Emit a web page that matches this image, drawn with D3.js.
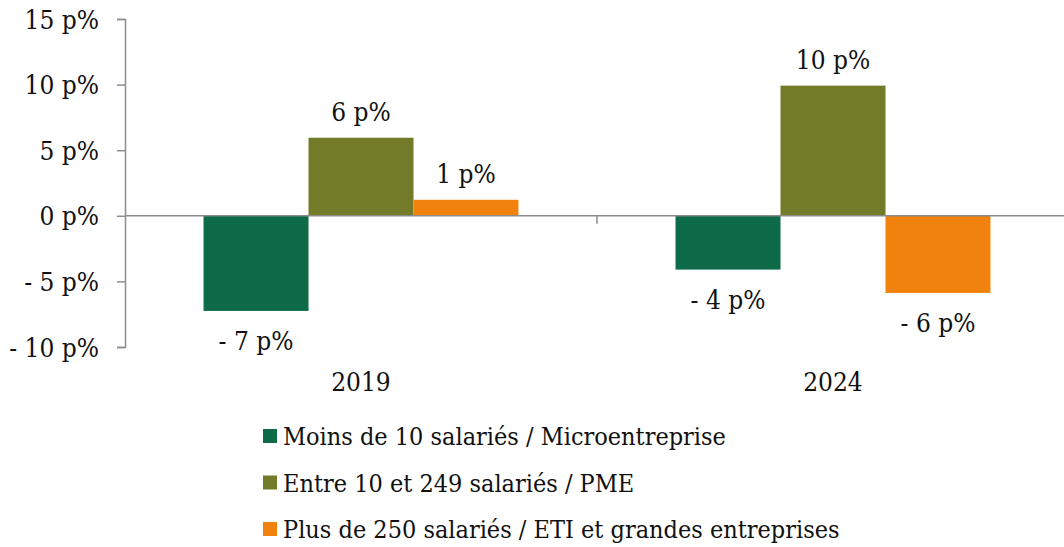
<!DOCTYPE html>
<html>
<head>
<meta charset="utf-8">
<script src="https://cdn.jsdelivr.net/npm/d3@7"></script>
<style>
  body { margin: 0; background: #fff; }
  svg text { font-family: "DejaVu Serif", serif; font-stretch: condensed; fill: #111; }
</style>
</head>
<body>
<div id="chart"></div>
<script>
// values (percentage points)
var years = ["2019", "2024"];
var seriesNames = [
  "Moins de 10 salariés / Microentreprise",
  "Entre 10 et 249 salariés / PME",
  "Plus de 250 salariés / ETI et grandes entreprises"
];
var seriesColors = ["#0e6b47", "#737a28", "#f0820d"];
var micro = [-7.25, -4.1];
var pme = [5.95, 9.92];
var eti = [1.22, -5.88];
var yTicks = [-10, -5, 0, 5, 10, 15];

var W = 1064, H = 547;
var margin = { top: 19, left: 125 };
var plotBottom = 347;
var bandW = 472;

var svg = d3.select("#chart").append("svg")
  .attr("width", W).attr("height", H);

var y = d3.scaleLinear().domain([-10, 15]).range([plotBottom, margin.top]);
var x = d3.scaleBand().domain(years)
  .range([margin.left, margin.left + bandW * years.length])
  .paddingInner(0).paddingOuter(0);
var xs = d3.scaleBand().domain(d3.range(seriesNames.length))
  .range([0, x.bandwidth()])
  .paddingInner(0).paddingOuter(0.748);

var allSeries = [micro, pme, eti];
var bars = [];
allSeries.forEach(function(vals, si) {
  vals.forEach(function(v, yi) {
    bars.push({ year: years[yi], s: si, v: v });
  });
});

function fmt(v) {
  var r = Math.round(v);
  return r < 0 ? "- " + Math.abs(r) + " p%" : r + " p%";
}

// bars
svg.append("g").selectAll("rect").data(bars).enter().append("rect")
  .attr("x", function(d) { return x(d.year) + xs(d.s); })
  .attr("width", xs.bandwidth())
  .attr("y", function(d) { return y(Math.max(0, d.v)); })
  .attr("height", function(d) { return Math.abs(y(d.v) - y(0)); })
  .attr("fill", function(d) { return seriesColors[d.s]; });

// y axis
var yAxis = svg.append("g")
  .attr("transform", "translate(" + margin.left + ",0)")
  .call(d3.axisLeft(y).tickValues(yTicks).tickSize(8).tickPadding(18)
    .tickFormat(function(d) { return d < 0 ? "- " + Math.abs(d) + " p%" : d + " p%"; }));
yAxis.select(".domain").attr("stroke", "#8c8c8c").attr("stroke-width", 1.5);
yAxis.selectAll(".tick line").attr("stroke", "#8c8c8c").attr("stroke-width", 1.5);
yAxis.selectAll(".tick text").attr("font-size", 26).attr("dy", "0.35em")
  .style("font-family", "DejaVu Serif").style("font-stretch", "condensed").attr("fill", "#111");

// x axis at zero
var xAxis = svg.append("g")
  .attr("transform", "translate(0," + y(0) + ")");
xAxis.append("line")
  .attr("x1", margin.left).attr("x2", W)
  .attr("stroke", "#8c8c8c").attr("stroke-width", 1.5);
xAxis.selectAll(".xt").data(years.slice(1)).enter().append("line")
  .attr("x1", function(d) { return x(d); }).attr("x2", function(d) { return x(d); })
  .attr("y1", 0).attr("y2", 8)
  .attr("stroke", "#8c8c8c").attr("stroke-width", 1.5);

// year labels
svg.append("g").selectAll("text").data(years).enter().append("text")
  .attr("x", function(d) { return x(d) + x.bandwidth() / 2; })
  .attr("y", 391)
  .attr("text-anchor", "middle").attr("font-size", 26)
  .text(function(d) { return d; });

// value labels
svg.append("g").selectAll("text").data(bars).enter().append("text")
  .attr("x", function(d) { return x(d.year) + xs(d.s) + xs.bandwidth() / 2; })
  .attr("y", function(d) { return d.v >= 0 ? y(d.v) - 17 : y(d.v) + 39; })
  .attr("text-anchor", "middle").attr("font-size", 26)
  .text(function(d) { return fmt(d.v); });

// legend
var legend = svg.append("g").attr("transform", "translate(263,429)");
var row = legend.selectAll("g").data(seriesNames).enter().append("g")
  .attr("transform", function(d, i) { return "translate(0," + (i * 46.5) + ")"; });
row.append("rect").attr("width", 14).attr("height", 14)
  .attr("fill", function(d, i) { return seriesColors[i]; });
row.append("text").attr("x", 20).attr("y", 16).attr("font-size", 25)
  .text(function(d) { return d; });
</script>
</body>
</html>
